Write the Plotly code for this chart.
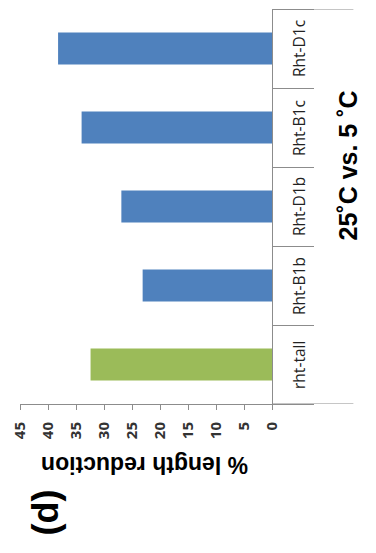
import plotly.graph_objects as go

# Length reduction at 25°C relative to 5°C for each height allele
categories = ["rht-tall", "Rht-B1b", "Rht-D1b", "Rht-B1c", "Rht-D1c"]
reduction = [32.4, 23.1, 26.9, 34.0, 38.2]
bar_colors = ["#9BBB59", "#4F81BD", "#4F81BD", "#4F81BD", "#4F81BD"]
value_ticks = [0, 5, 10, 15, 20, 25, 30, 35, 40, 45]
group_label = "25˚C vs. 5 ˚C"
value_title = "% length reduction"
panel_label = "(d)"

W, H = 376, 553
M_L, M_R, M_T, M_B = 15, 104, 9, 149
plot_w = W - M_L - M_R
plot_h = H - M_T - M_B


def px_x(px):
    return (px - M_L) / plot_w


def px_y(py):
    return (H - M_B - py) / plot_h


AXIS = "#8c8c8c"
TEXT = "#1a1a1a"

fig = go.Figure(
    go.Bar(
        x=reduction,
        y=categories,
        orientation="h",
        marker=dict(color=bar_colors, line=dict(width=0)),
        hoverinfo="skip",
    )
)

fig.update_layout(
    width=W,
    height=H,
    margin=dict(l=M_L, r=M_R, t=M_T, b=M_B),
    paper_bgcolor="white",
    plot_bgcolor="white",
    showlegend=False,
    bargap=0.595,
    font=dict(family="Open Sans", color=TEXT),
)

fig.update_xaxes(
    range=[45, 0],
    tickvals=value_ticks,
    ticktext=[str(v) for v in value_ticks],
    tickangle=-90,
    ticks="outside",
    ticklen=5,
    tickcolor=AXIS,
    showline=True,
    linecolor=AXIS,
    linewidth=1,
    showgrid=False,
    zeroline=False,
    tickfont=dict(family="Open Sans", size=15, color="#333333", weight="bold"),
    ticklabelstandoff=6,
)

fig.update_yaxes(
    type="category",
    categoryorder="array",
    categoryarray=categories,
    range=[-0.5, len(categories) - 0.5],
    side="right",
    showline=True,
    linecolor=AXIS,
    linewidth=1,
    ticks="outside",
    tickson="boundaries",
    ticklen=41,
    tickcolor=AXIS,
    showticklabels=False,
    showgrid=False,
    zeroline=False,
)

# Outer group boundaries extending through the label band
for yb in (-0.5, len(categories) - 0.5):
    fig.add_shape(
        type="line",
        xref="paper",
        yref="y",
        x0=1.0,
        x1=px_x(355),
        y0=yb,
        y1=yb,
        line=dict(color=AXIS, width=1),
    )

annotations = []
for cat in categories:
    annotations.append(
        dict(
            x=px_x(299),
            y=cat,
            xref="paper",
            yref="y",
            text=cat,
            textangle=-90,
            showarrow=False,
            xanchor="center",
            yanchor="middle",
            font=dict(family="Open Sans", size=15.5, color="#222222"),
        )
    )

annotations.append(
    dict(
        x=px_x(349),
        y=px_y(166),
        xref="paper",
        yref="paper",
        text=group_label,
        textangle=-90,
        showarrow=False,
        xanchor="center",
        yanchor="middle",
        font=dict(family="Liberation Sans", size=25, color="black", weight="bold"),
    )
)
annotations.append(
    dict(
        x=px_x(142),
        y=px_y(465),
        xref="paper",
        yref="paper",
        text=value_title,
        textangle=180,
        showarrow=False,
        xanchor="center",
        yanchor="middle",
        font=dict(family="Liberation Sans", size=23, color="black", weight="bold"),
    )
)
annotations.append(
    dict(
        x=px_x(41),
        y=px_y(512),
        xref="paper",
        yref="paper",
        text=panel_label,
        textangle=-90,
        showarrow=False,
        xanchor="center",
        yanchor="middle",
        font=dict(family="Liberation Sans", size=36, color="black", weight="bold"),
    )
)
fig.update_layout(annotations=annotations)

fig.write_html("out.html")
